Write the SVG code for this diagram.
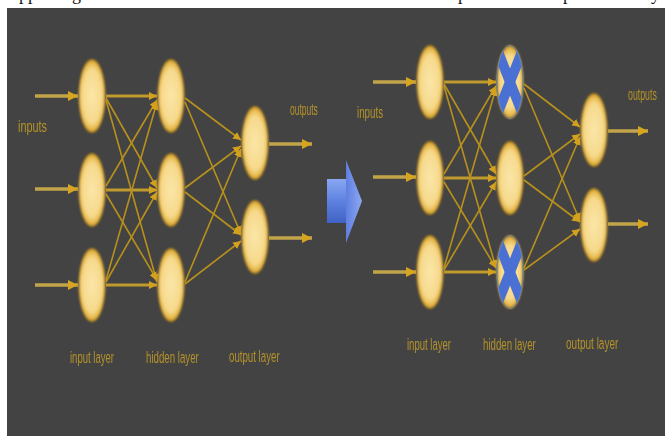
<svg xmlns="http://www.w3.org/2000/svg" width="665" height="436" viewBox="0 0 665 436">
<style>
.bg{fill:#434343}
.top{font-family:"Liberation Serif",serif;font-size:18px;fill:#111}
.node{fill:url(#ng);filter:url(#soft)}
.lbl{font-family:"Liberation Sans",sans-serif;fill:#b4922a;filter:url(#tb)}
.in{stroke:#c2a548;stroke-width:3.5;fill:none;marker-end:url(#ah)}
.c{stroke:#b8911c;stroke-width:1.6;fill:none;marker-end:url(#ahs)}
.ch{stroke:#bf9a2c;stroke-width:3;fill:none;marker-end:url(#ahs)}
.x{stroke:#4a70d4;stroke-width:10;stroke-linecap:butt}
</style>
<defs>
<radialGradient id="ng" cx="0.5" cy="0.5" r="0.5">
<stop offset="0" stop-color="#fbe6a8"/>
<stop offset="0.72" stop-color="#f6d98c"/>
<stop offset="0.9" stop-color="#e6b84a"/>
<stop offset="1" stop-color="#a87a14"/>
</radialGradient>
<linearGradient id="bl" x1="0" y1="0" x2="0" y2="1">
<stop offset="0" stop-color="#8aa6f2"/>
<stop offset="0.5" stop-color="#5e82e0"/>
<stop offset="1" stop-color="#3f62c4"/>
</linearGradient>
<linearGradient id="bh" x1="0" y1="0" x2="1" y2="0">
<stop offset="0" stop-color="#5f7fe0"/>
<stop offset="1" stop-color="#8ea8f2"/>
</linearGradient>
<filter id="soft" x="-30%" y="-20%" width="160%" height="140%"><feGaussianBlur stdDeviation="0.9"/></filter>
<filter id="tb" x="-10%" y="-20%" width="120%" height="140%"><feGaussianBlur stdDeviation="0.5"/></filter>
<marker id="ah" viewBox="0 0 10 10" refX="10" refY="5" markerWidth="10" markerHeight="10" markerUnits="userSpaceOnUse" orient="auto"><path d="M0,0 L10,5 L0,10 z" fill="#d8a520"/></marker>
<marker id="ahs" viewBox="0 0 10 10" refX="10" refY="5" markerWidth="8" markerHeight="8" markerUnits="userSpaceOnUse" orient="auto"><path d="M0,0 L10,5 L0,10 z" fill="#d4a11e"/></marker>
<clipPath id="cx1"><ellipse cx="510" cy="82" rx="13.5" ry="37"/></clipPath>
<clipPath id="cx3"><ellipse cx="510" cy="272" rx="13.5" ry="37"/></clipPath>
</defs>
<rect x="0" y="0" width="665" height="436" fill="#ffffff"/>
<rect class="bg" x="7" y="8" width="658" height="428"/>
<g id="cutoff-text">
<text class="top" x="19" y="0">pp</text>
<text class="top" x="72" y="0">g</text>
<text class="top" x="458" y="0">p</text>
<text class="top" x="563" y="0">p</text>
<text class="top" x="651" y="0">y</text>
</g>
<g id="connectors">
<path class="in" d="M35,96 L78,96"/>
<path class="in" d="M35,189 L78,189"/>
<path class="in" d="M35,285 L78,285"/>
<path class="ch" d="M106,96 L157,96"/>
<path class="c" d="M106,98 L157,188"/>
<path class="c" d="M106,100 L157,282"/>
<path class="c" d="M106,186 L157,100"/>
<path class="ch" d="M106,190 L157,190"/>
<path class="c" d="M106,194 L157,280"/>
<path class="c" d="M106,280 L157,102"/>
<path class="c" d="M106,282 L157,192"/>
<path class="ch" d="M106,285 L157,285"/>
<path class="c" d="M185,98 L241,140"/>
<path class="c" d="M185,102 L241,234"/>
<path class="c" d="M185,188 L241,146"/>
<path class="c" d="M185,192 L241,235"/>
<path class="c" d="M185,282 L241,149"/>
<path class="c" d="M185,284 L241,241"/>
<path class="in" d="M269,144 L312,144"/>
<path class="in" d="M269,238 L312,238"/>
<path class="in" d="M373,82 L416,82"/>
<path class="in" d="M373,177 L416,177"/>
<path class="in" d="M373,272 L416,272"/>
<path class="ch" d="M444,82 L496,82"/>
<path class="c" d="M444,84 L496,174"/>
<path class="c" d="M444,86 L496,268"/>
<path class="c" d="M444,174 L496,86"/>
<path class="ch" d="M444,178 L496,178"/>
<path class="c" d="M444,182 L496,268"/>
<path class="c" d="M444,268 L496,88"/>
<path class="c" d="M444,270 L496,182"/>
<path class="ch" d="M444,272 L496,272"/>
<path class="c" d="M524,84 L580,127"/>
<path class="c" d="M524,88 L580,221"/>
<path class="c" d="M524,176 L580,134"/>
<path class="c" d="M524,180 L580,222"/>
<path class="c" d="M524,268 L580,137"/>
<path class="c" d="M524,270 L580,229"/>
<path class="in" d="M608,131 L648,131"/>
<path class="in" d="M608,224 L648,224"/>
</g>
<g id="left-in-1"><ellipse class="node" cx="92" cy="96" rx="13.5" ry="37"/></g>
<g id="left-in-2"><ellipse class="node" cx="92" cy="190" rx="13.5" ry="37"/></g>
<g id="left-in-3"><ellipse class="node" cx="92" cy="285" rx="13.5" ry="37"/></g>
<g id="left-hid-1"><ellipse class="node" cx="171" cy="96" rx="13.5" ry="37"/></g>
<g id="left-hid-2"><ellipse class="node" cx="171" cy="190" rx="13.5" ry="37"/></g>
<g id="left-hid-3"><ellipse class="node" cx="171" cy="285" rx="13.5" ry="37"/></g>
<g id="left-out-1"><ellipse class="node" cx="255" cy="143" rx="13.5" ry="37"/></g>
<g id="left-out-2"><ellipse class="node" cx="255" cy="237" rx="13.5" ry="37"/></g>
<g id="right-in-1"><ellipse class="node" cx="430" cy="82" rx="13.5" ry="37"/></g>
<g id="right-in-2"><ellipse class="node" cx="430" cy="178" rx="13.5" ry="37"/></g>
<g id="right-in-3"><ellipse class="node" cx="430" cy="272" rx="13.5" ry="37"/></g>
<g id="right-hid-1"><ellipse class="node" cx="510" cy="82" rx="13.5" ry="37"/>
<g clip-path="url(#cx1)"><line class="x" x1="497" y1="49" x2="523" y2="115"/><line class="x" x1="523" y1="49" x2="497" y2="115"/></g>
<ellipse cx="510" cy="82" rx="13" ry="36.5" fill="none" stroke="#6f86a0" stroke-width="1"/></g>
<g id="right-hid-2"><ellipse class="node" cx="510" cy="178" rx="13.5" ry="37"/></g>
<g id="right-hid-3"><ellipse class="node" cx="510" cy="272" rx="13.5" ry="37"/>
<g clip-path="url(#cx3)"><line class="x" x1="497" y1="239" x2="523" y2="305"/><line class="x" x1="523" y1="239" x2="497" y2="305"/></g>
<ellipse cx="510" cy="272" rx="13" ry="36.5" fill="none" stroke="#6f86a0" stroke-width="1"/></g>
<g id="right-out-1"><ellipse class="node" cx="594" cy="130" rx="13.5" ry="37"/></g>
<g id="right-out-2"><ellipse class="node" cx="594" cy="225" rx="13.5" ry="37"/></g>
<g id="blue-arrow">
<rect x="327" y="179" width="21" height="44" fill="url(#bl)"/>
<path d="M346,160 L362,201 L346,243 z" fill="url(#bh)"/>
</g>
<g id="labels">
<text class="lbl" font-size="16" transform="translate(18,132) scale(0.68,1)">inputs</text>
<text class="lbl" font-size="17" transform="translate(290,115) scale(0.5,1)">outputs</text>
<text class="lbl" font-size="17" transform="translate(70,363) scale(0.56,1)">input layer</text>
<text class="lbl" font-size="17" transform="translate(146,363) scale(0.57,1)">hidden layer</text>
<text class="lbl" font-size="17" transform="translate(229,362) scale(0.57,1)">output layer</text>
<text class="lbl" font-size="16" transform="translate(357,118) scale(0.61,1)">inputs</text>
<text class="lbl" font-size="16" transform="translate(628,100) scale(0.55,1)">outputs</text>
<text class="lbl" font-size="17" transform="translate(407,350) scale(0.56,1)">input layer</text>
<text class="lbl" font-size="17" transform="translate(483,350) scale(0.57,1)">hidden layer</text>
<text class="lbl" font-size="17" transform="translate(566,349) scale(0.59,1)">output layer</text>
</g>
</svg>
